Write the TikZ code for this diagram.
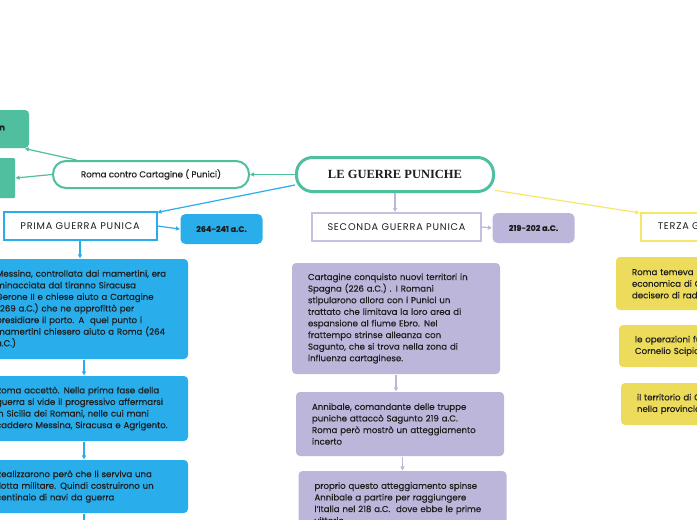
\documentclass[tikz,border=0pt]{standalone}
\usepackage{fontspec}
\setmainfont{Poppins}[FakeBold=0.3]
\newfontfamily\titlefont{Liberation Serif}
\newfontfamily\capsfont[LetterSpace=8]{Poppins}
\usetikzlibrary{arrows.meta}

\definecolor{mapteal}{HTML}{4FBF9F}
\definecolor{mapblue}{HTML}{2AADEB}
\definecolor{mappurple}{HTML}{BDB6DB}
\definecolor{mappurpleline}{HTML}{C6BFE2}
\definecolor{mapyellow}{HTML}{EDDC5C}
\definecolor{mapyellowline}{HTML}{F6E76A}
\definecolor{maptext}{HTML}{1E1E1E}

\tikzset{
  note/.style={rectangle,rounded corners=4pt,text width=176pt,inner xsep=16pt,inner ysep=3pt,
    align=left,text=maptext,font=\fontsize{8.6}{11.6}\selectfont},
  headbox/.style={rectangle,draw,fill=white,line width=2pt,minimum height=28pt,inner sep=0pt,
    text=maptext,font=\capsfont\fontsize{9.7}{10}\selectfont},
  datebox/.style={rectangle,rounded corners=5pt,minimum width=82pt,minimum height=30pt,
    text=maptext,font=\bfseries\fontsize{8}{9}\selectfont},
}

\begin{document}
\begin{tikzpicture}[x=1pt,y=-1pt,>={Triangle[length=4pt,width=4pt]},line width=1.2pt]
    \useasboundingbox (0,0) rectangle (697,520);
    \fill [white] (0,0) rectangle (697,520);
    \clip (0,0) rectangle (697,520);

    %centre and the teal branch
    \node (main) at (395,174.5) [rectangle,rounded corners=16pt,draw=mapteal,line width=3pt,fill=white,
      minimum width=197pt,minimum height=34pt,text=maptext,font=\titlefont\bfseries\fontsize{12.5}{14}\selectfont]{LE GUERRE PUNICHE};
    \node (roma) at (151,174.5) [rectangle,rounded corners=13pt,draw=mapteal,line width=2pt,fill=white,
      minimum width=196pt,minimum height=27pt,text=maptext,font=\fontsize{8.65}{10}\selectfont]{Roma contro Cartagine ( Punici)};
    \node (G1) at (-60,129) [rectangle,rounded corners=4pt,fill=mapteal,text width=130pt,inner xsep=24pt,minimum height=38pt,
      align=right,text=maptext,font=\bfseries\fontsize{8.6}{11.6}\selectfont]{\raisebox{4pt}{colonia fenicia fondata in}};
    \node (G2) at (-32.5,178) [rectangle,rounded corners=1pt,fill=mapteal,minimum width=95pt,minimum height=40pt]{};

    %prima guerra
    \node (prima) at (80,226) [headbox,draw=mapblue,minimum width=153pt]{PRIMA GUERRA PUNICA};
    \node (pdate) at (221.5,229) [datebox,fill=mapblue]{264-241 a.C.};
    \node (P1) at (84,309) [note,fill=mapblue,minimum height=100pt]{Messina, controllata dai mamertini, era\\minacciata dal tiranno Siracusa\\Gerone II e chiese aiuto a Cartagine\\(269 a.C.) che ne approfittò per\\presidiare il porto. A\ \ quel punto i\\mamertini chiesero aiuto a Roma (264\\a.C.)};
    \node (P2) at (84,408.5) [note,fill=mapblue,minimum height=65pt]{Roma accettò. Nella prima fase della\\guerra si vide il progressivo affermarsi\\in Sicilia dei Romani, nelle cui mani\\caddero Messina, Siracusa e Agrigento.};
    \node (P3) at (84,486.5) [note,fill=mapblue,minimum height=53pt]{Realizzarono però che li serviva una\\flotta militare. Quindi costruirono un\\centinaio di navi da guerra};
    \coordinate (P4) at (84,530);

    %seconda guerra
    \node (seconda) at (396.5,227) [headbox,draw=mappurpleline,minimum width=169pt]{SECONDA GUERRA PUNICA};
    \node (sdate) at (533.5,228) [datebox,fill=mappurple]{219-202 a.C.};
    \node (S1) at (396,318.5) [note,fill=mappurple,minimum height=111pt]{Cartagine conquisto nuovi territori in\\Spagna (226 a.C.) . I Romani\\stipularono allora con i Punici un\\trattato che limitava la loro area di\\espansione al fiume Ebro. Nel\\frattempo strinse alleanza con\\Sagunto, che si trova nella zona di\\influenza cartaginese.};
    \node (S2) at (400,424) [note,fill=mappurple,minimum height=64pt]{Annibale, comandante delle truppe\\puniche attaccò Sagunto 219 a.C.\\Roma però mostrò un atteggiamento\\incerto};
    \node (S3) at (402.5,503) [note,fill=mappurple,minimum height=64pt]{proprio questo atteggiamento spinse\\Annibale a partire per raggiungere\\l'Italia nel 218 a.C.\ \ dove ebbe le prime\\vittorie};

    %terza guerra
    \node (terza) at (717,226.5) [headbox,draw=mapyellowline,minimum width=153pt]{TERZA GUERRA PUNICA};
    \node (Y1) at (720,283.5) [note,fill=mapyellow,minimum height=53pt]{Roma temeva la ripresa\\economica di Cartagine e\\decisero di raderla al suolo};
    \node (Y2) at (723,346) [note,fill=mapyellow,minimum height=42pt]{le operazioni furono guidate da\\Cornelio Scipione Emiliano};
    \node (Y3) at (725,404) [note,fill=mapyellow,minimum height=42pt]{il territorio di Cartagine fu ridotto\\nella provincia d'Africa};

    %teal arrows
    \draw [->,color=mapteal] (main.west) to (roma.east);
    \draw [->,color=mapteal] (roma.169) to (G1.-13);
    \draw [->,color=mapteal] (roma.west) to (G2.east);

    %blue arrows
    \draw [->,color=mapblue] (main.186.7) to (prima.10);
    \draw [->,color=mapblue] (prima.east) to (pdate.west);
    \draw [->,color=mapblue] (prima.south) to (prima.south |- P1.north);
    \draw [->,color=mapblue] (P1.south) to (P2.north);
    \draw [->,color=mapblue] (P2.south) to (P3.north);
    \draw [color=mapblue] (P3.south) to (P4);

    %purple arrows
    \draw [->,color=mappurple] (main.south) to (main.south |- seconda.north);
    \draw [->,color=mappurple] (seconda.east) to (sdate.west);
    \draw [->,color=mappurple] (S1.south) to (S1.south |- S2.north);
    \draw [->,color=mappurple] (S3.north |- S2.south) to (S3.north);

    %yellow arrow
    \draw [->,color=mapyellowline] (main.-9) to (terza.170);
  \end{tikzpicture}
\end{document}
